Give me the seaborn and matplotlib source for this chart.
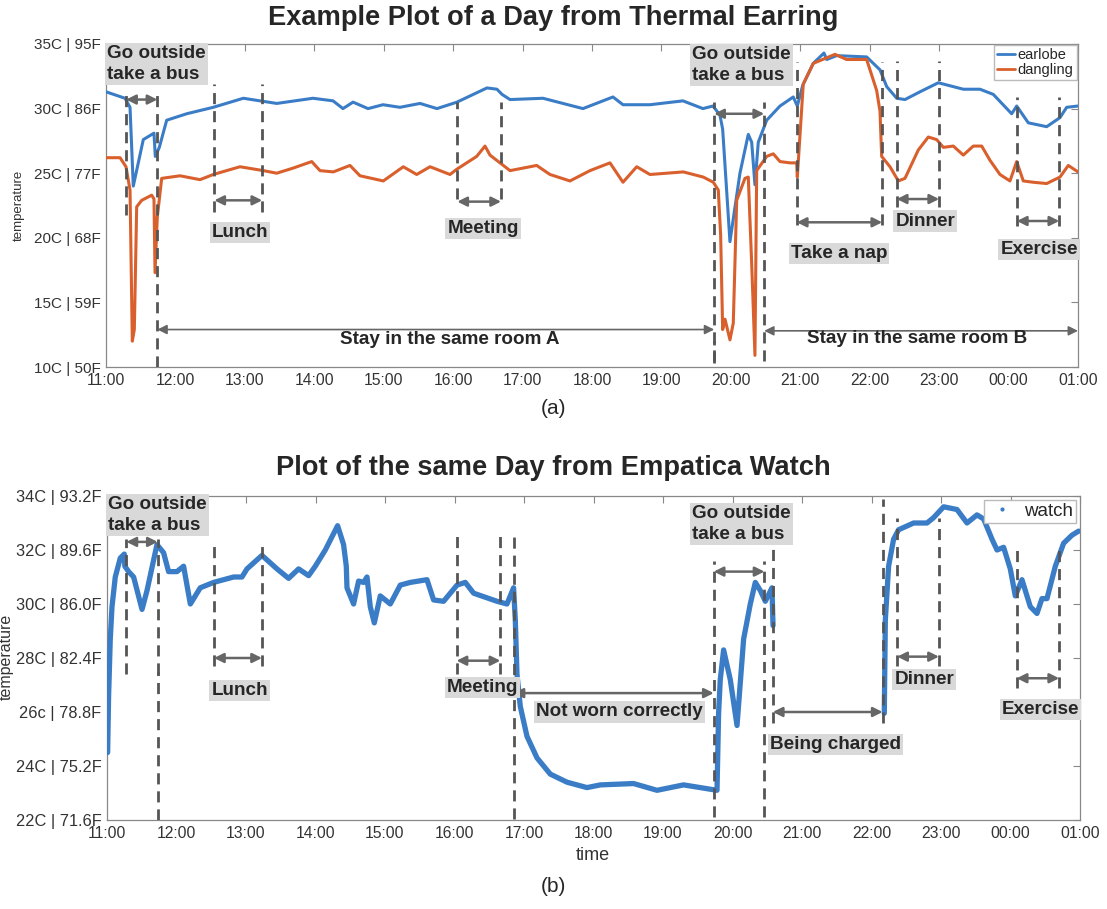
import numpy as np
import pandas as pd
import matplotlib
matplotlib.use('Agg')
import matplotlib.pyplot as plt
from matplotlib.lines import Line2D
import seaborn as sns

# DATOS (hora decimal desde 11:00; 25 = 01:00 del día siguiente)
earlobe_t = [11.0, 11.274, 11.346, 11.393, 11.537, 11.691, 11.710, 11.768, 11.874, 12.162,
             12.545, 12.978, 13.459, 13.981, 14.270, 14.413, 14.558, 14.774, 14.990, 15.234,
             15.523, 15.767, 16.055, 16.487, 16.631, 16.704, 16.819, 17.294, 17.870, 18.302,
             18.446, 18.835, 19.310, 19.598, 19.742, 19.843, 19.882, 19.987, 20.131, 20.251,
             20.300, 20.347, 20.395, 20.516, 20.708, 20.899, 20.957, 21.035, 21.187, 21.341,
             21.380, 21.524, 21.956, 22.148, 22.245, 22.389, 22.508, 22.724, 22.988, 23.348,
             23.588, 23.780, 24.045, 24.117, 24.284, 24.549, 24.740, 24.837, 25.0]
earlobe_v = [31.3, 30.8, 30.1, 24.0, 27.6, 28.1, 26.3, 27.0, 29.1, 29.6,
             30.1, 30.8, 30.4, 30.8, 30.6, 30.0, 30.5, 30.0, 30.3, 30.1,
             30.4, 30.0, 30.5, 31.6, 31.5, 31.1, 30.7, 30.8, 30.0, 30.9,
             30.3, 30.3, 30.6, 30.0, 30.2, 29.5, 28.4, 19.7, 25.0, 28.0,
             27.4, 24.1, 27.4, 29.1, 30.2, 30.9, 30.2, 31.8, 33.5, 34.3,
             33.8, 34.1, 34.0, 33.0, 31.7, 30.8, 30.7, 31.3, 32.0, 31.5,
             31.5, 31.1, 29.6, 30.2, 28.9, 28.6, 29.3, 30.1, 30.2]

dangling_t = [11.0, 11.202, 11.288, 11.346, 11.379, 11.408, 11.442, 11.514, 11.586, 11.658,
              11.691, 11.706, 11.739, 11.802, 12.066, 12.354, 12.545, 12.930, 13.266, 13.459,
              13.698, 13.963, 14.082, 14.274, 14.514, 14.658, 14.994, 15.282, 15.475, 15.667,
              15.955, 16.051, 16.339, 16.459, 16.531, 16.675, 16.819, 17.203, 17.395, 17.683,
              17.971, 18.259, 18.446, 18.644, 18.835, 19.315, 19.603, 19.747, 19.819, 19.853,
              19.882, 19.916, 19.987, 20.035, 20.084, 20.203, 20.251, 20.300, 20.347, 20.372,
              20.516, 20.611, 20.708, 20.852, 20.948, 20.957, 21.043, 21.187, 21.500, 21.668,
              21.956, 22.100, 22.148, 22.172, 22.292, 22.412, 22.508, 22.700, 22.844, 22.965,
              23.060, 23.204, 23.348, 23.492, 23.613, 23.732, 23.876, 24.020, 24.117, 24.212,
              24.356, 24.549, 24.740, 24.860, 25.0]
dangling_v = [26.2, 26.2, 25.5, 23.7, 12.0, 12.9, 22.4, 22.9, 23.1, 23.3,
              23.0, 17.3, 21.6, 24.6, 24.8, 24.5, 24.9, 25.5, 25.2, 25.0,
              25.4, 25.9, 25.2, 25.1, 25.6, 24.8, 24.4, 25.5, 24.9, 25.5,
              24.9, 25.3, 26.3, 27.1, 26.4, 25.8, 25.2, 25.6, 24.9, 24.4,
              25.2, 25.8, 24.3, 25.5, 24.9, 25.1, 24.7, 24.3, 23.7, 20.2,
              12.9, 13.7, 12.1, 13.4, 22.9, 24.6, 24.7, 18.0, 10.9, 25.2,
              26.3, 26.5, 25.9, 25.8, 25.8, 24.7, 31.9, 33.5, 34.2, 33.8,
              33.8, 31.4, 29.8, 26.3, 25.5, 24.4, 24.6, 26.8, 27.8, 27.6,
              27.0, 27.1, 26.4, 27.1, 27.1, 26.0, 24.9, 24.4, 25.9, 24.4,
              24.3, 24.2, 24.7, 25.6, 25.1]

# reloj: antes y después de la carga
watch1_t = [11.009, 11.023, 11.047, 11.072, 11.119, 11.191, 11.249, 11.256, 11.311, 11.383,
            11.504, 11.576, 11.719, 11.814, 11.886, 12.007, 12.102, 12.199, 12.342, 12.534,
            12.822, 12.942, 13.014, 13.230, 13.446, 13.613, 13.757, 13.901, 13.997, 14.141,
            14.318, 14.404, 14.443, 14.453, 14.548, 14.620, 14.692, 14.741, 14.788, 14.846,
            14.932, 15.076, 15.220, 15.364, 15.604, 15.699, 15.843, 16.036, 16.155, 16.275,
            16.612, 16.755, 16.850, 16.875, 16.899, 16.947, 17.043, 17.187, 17.378, 17.619,
            17.906, 18.098, 18.577, 18.914, 19.296, 19.777, 19.800, 19.824, 19.872, 19.968,
            20.065, 20.160, 20.256, 20.328, 20.400, 20.472, 20.568, 20.583]
watch1_v = [24.5, 26.6, 28.7, 29.9, 31.0, 31.7, 31.85, 31.4, 31.2, 31.0,
            29.8, 30.5, 32.2, 31.9, 31.2, 31.2, 31.4, 30.0, 30.6, 30.8,
            31.0, 31.0, 31.3, 31.8, 31.3, 30.95, 31.3, 31.05, 31.4, 32.0,
            32.9, 32.2, 31.4, 30.6, 30.0, 30.85, 30.8, 31.0, 29.9, 29.3,
            30.3, 30.0, 30.7, 30.8, 30.9, 30.15, 30.1, 30.7, 30.8, 30.4,
            30.1, 30.0, 30.6, 29.4, 27.4, 26.2, 25.1, 24.3, 23.7, 23.4,
            23.2, 23.3, 23.35, 23.1, 23.3, 23.1, 25.95, 27.2, 28.3, 27.2,
            25.5, 28.7, 30.0, 30.8, 30.5, 30.1, 30.6, 29.2]
watch2_t = [22.184, 22.199, 22.246, 22.318, 22.390, 22.606, 22.799, 22.894, 23.038, 23.230,
            23.374, 23.518, 23.613, 23.734, 23.806, 23.901, 23.997, 24.069, 24.165, 24.285,
            24.381, 24.453, 24.525, 24.645, 24.764, 24.885, 24.980]
watch2_v = [25.95, 29.4, 31.4, 32.4, 32.75, 33.0, 33.0, 33.2, 33.6, 33.5,
            33.0, 33.3, 33.15, 32.4, 32.0, 32.1, 31.3, 30.3, 30.9, 29.9,
            29.65, 30.2, 30.2, 31.4, 32.25, 32.55, 32.7]

hour_ticks = list(range(11, 26))
hour_labels = ['11:00', '12:00', '13:00', '14:00', '15:00', '16:00', '17:00', '18:00',
               '19:00', '20:00', '21:00', '22:00', '23:00', '00:00', '01:00']
top_yticks = [10, 15, 20, 25, 30, 35]
top_ylabels = ['10C | 50F', '15C | 59F', '20C | 68F', '25C | 77F', '30C | 86F', '35C | 95F']
bot_yticks = [22, 24, 26, 28, 30, 32, 34]
bot_ylabels = ['22C | 71.6F', '24C | 75.2F', '26c | 78.8F', '28C | 82.4F',
               '30C | 86.0F', '32C | 89.6F', '34C | 93.2F']

# eventos: (x0, x1, y0, y1 de las líneas discontinuas, altura flecha)
top_events = [(11.29, 11.74, 21.8, 31.4, 30.7), (12.56, 13.25, 22.0, 31.9, 22.9),
              (16.06, 16.69, 23.0, 30.5, 22.8), (20.95, 22.18, 21.0, 33.6, 21.2),
              (22.39, 23.00, 22.4, 33.7, 23.0), (24.12, 24.73, 20.9, 30.9, 21.3),
              (19.76, 20.48, 10.5, 30.5, 29.6)]
top_labels = [('Go outside\ntake a bus', 11.02, 34.95, 'left', 'top'),
              ('Lunch', 12.93, 20.4, 'center', 'center'),
              ('Meeting', 16.43, 20.7, 'center', 'center'),
              ('Go outside\ntake a bus', 19.44, 34.85, 'left', 'top'),
              ('Take a nap', 21.56, 18.8, 'center', 'center'),
              ('Dinner', 22.80, 21.3, 'center', 'center'),
              ('Exercise', 24.44, 19.1, 'center', 'center')]
bot_events = [(11.28, 11.73, 27.4, 32.4, 32.3), (12.54, 13.23, 27.7, 32.3, 28.0),
              (16.03, 16.66, 27.4, 32.6, 27.9), (22.37, 22.97, 27.7, 33.2, 28.05),
              (24.09, 24.70, 26.9, 32.1, 27.25), (19.73, 20.46, 22.1, 31.6, 31.2)]
bot_labels = [('Go outside\ntake a bus', 11.02, 34.0, 'left', 'top'),
              ('Lunch', 12.91, 26.8, 'center', 'center'),
              ('Meeting', 16.40, 26.9, 'center', 'center'),
              ('Not worn correctly', 18.37, 26.0, 'center', 'center'),
              ('Go outside\ntake a bus', 19.42, 33.67, 'left', 'top'),
              ('Being charged', 21.48, 24.8, 'center', 'center'),
              ('Dinner', 22.76, 27.2, 'center', 'center'),
              ('Exercise', 24.43, 26.1, 'center', 'center')]

sns.set_style('white')
plt.rcParams['font.family'] = ['Liberation Sans', 'DejaVu Sans']

blue = '#3a7dc6'
orange = '#d9602d'
dash_c = '#555555'
arrow_c = '#666666'

fig = plt.figure(figsize=(11.07, 9.09), dpi=100)
ax1 = fig.add_axes([106 / 1107, 1 - 367 / 909, 972 / 1107, 323 / 909])
ax2 = fig.add_axes([107 / 1107, 1 - 820 / 909, 973 / 1107, 324 / 909])


def vline(ax, x, y0, y1):
    ax.plot([x, x], [y0, y1], color=dash_c, lw=2, dashes=(4, 2.5), zorder=4)


def darrow(ax, x0, x1, y, lw=1.8, c=arrow_c):
    ax.annotate('', xy=(x1, y), xytext=(x0, y),
                arrowprops=dict(arrowstyle='<|-|>', color=c, lw=lw,
                                mutation_scale=14, shrinkA=0, shrinkB=0), zorder=4)


def label(ax, txt, x, y, ha, va):
    ax.text(x, y, txt, ha=ha, va=va, fontsize=13.6, fontweight='bold', linespacing=1.3,
            bbox=dict(facecolor='#d9d9d9', edgecolor='none', pad=1.5), zorder=6)


def style(ax, yt, yl, ylim, ysize):
    ax.set_xlim(11, 25)
    ax.set_ylim(*ylim)
    ax.set_xticks(hour_ticks)
    ax.set_xticklabels(hour_labels)
    ax.set_yticks(yt)
    ax.set_yticklabels(yl)
    ax.tick_params(direction='in', length=5, width=0.8, color='#888888',
                   labelcolor='#333333', labelsize=11.3, top=True, right=True, pad=4)
    ax.tick_params(axis='y', labelsize=ysize)
    for s in ax.spines.values():
        s.set_color('#888888')
        s.set_linewidth(0.9)
    ax.set_xlabel('')
    ax.set_ylabel('')


# PANEL (a): pendiente térmico
df_ear = pd.DataFrame({'t': earlobe_t, 'v': earlobe_v})
df_dan = pd.DataFrame({'t': dangling_t, 'v': dangling_v})
sns.lineplot(data=df_ear, x='t', y='v', ax=ax1, color=blue, lw=2.2, estimator=None, sort=False, zorder=3)
sns.lineplot(data=df_dan, x='t', y='v', ax=ax1, color=orange, lw=2.2, estimator=None, sort=False, zorder=3)
style(ax1, top_yticks, top_ylabels, (10, 35), 11)

for x0, x1, y0, y1, ya in top_events:
    vline(ax1, x0, y0, y1)
    vline(ax1, x1, y0, y1)
    darrow(ax1, x0, x1, ya)
vline(ax1, 11.74, 10, 21.0)
vline(ax1, 19.76, 10.3, 12)
darrow(ax1, 11.74, 19.76, 12.9, lw=1.2)
darrow(ax1, 20.48, 25.0, 12.8, lw=1.2)
for txt, x, y, ha, va in top_labels:
    label(ax1, txt, x, y, ha, va)
ax1.text(15.95, 12.1, 'Stay in the same room A', ha='center', va='center',
         fontsize=13.6, fontweight='bold', zorder=6)
ax1.text(22.68, 12.2, 'Stay in the same room B', ha='center', va='center',
         fontsize=13.6, fontweight='bold', zorder=6)

leg1 = ax1.legend(handles=[Line2D([], [], color=blue, lw=2), Line2D([], [], color=orange, lw=2)],
                  labels=['earlobe', 'dangling'], loc='upper right', fontsize=10.5,
                  handlelength=1.2, handletextpad=0.2, borderpad=0.2, labelspacing=0.05,
                  borderaxespad=0.1, fancybox=False, framealpha=1, edgecolor='#bbbbbb')
leg1.set_zorder(7)

# PANEL (b): reloj Empatica
df_w1 = pd.DataFrame({'t': watch1_t, 'v': watch1_v})
df_w2 = pd.DataFrame({'t': watch2_t, 'v': watch2_v})
sns.lineplot(data=df_w1, x='t', y='v', ax=ax2, color=blue, lw=3.8, estimator=None, sort=False, zorder=3)
sns.lineplot(data=df_w2, x='t', y='v', ax=ax2, color=blue, lw=3.8, estimator=None, sort=False, zorder=3)
style(ax2, bot_yticks, bot_ylabels, (22, 34), 11.8)

for x0, x1, y0, y1, ya in bot_events:
    vline(ax2, x0, y0, y1)
    vline(ax2, x1, y0, y1)
    darrow(ax2, x0, x1, ya)
vline(ax2, 11.73, 22, 27.5)
vline(ax2, 16.85, 22.05, 32.7)
vline(ax2, 20.58, 25.6, 32.4)
vline(ax2, 22.16, 25.6, 33.9)
darrow(ax2, 16.85, 19.73, 26.7)
darrow(ax2, 20.58, 22.16, 26.0)
for txt, x, y, ha, va in bot_labels:
    label(ax2, txt, x, y, ha, va)

leg2 = ax2.legend(handles=[Line2D([], [], color=blue, lw=0, marker='.', markersize=4)],
                  labels=['watch'], loc='upper right', fontsize=13.5,
                  handlelength=1.6, handletextpad=0.4, borderpad=0.15,
                  borderaxespad=0.2, fancybox=False, framealpha=1, edgecolor='#bbbbbb')
leg2.set_zorder(7)

# textos de la figura
fig.text(553 / 1107, 1 - 18 / 909, 'Example Plot of a Day from Thermal Earring',
         ha='center', va='center', fontsize=19.6, fontweight='bold')
fig.text(553 / 1107, 1 - 468 / 909, 'Plot of the same Day from Empatica Watch',
         ha='center', va='center', fontsize=19.6, fontweight='bold')
fig.text(553 / 1107, 1 - 408 / 909, '(a)', ha='center', va='center', fontsize=15)
fig.text(553 / 1107, 1 - 887 / 909, '(b)', ha='center', va='center', fontsize=15)
fig.text(593 / 1107, 1 - 855 / 909, 'time', ha='center', va='center', fontsize=13, color='#333333')
fig.text(19 / 1107, 1 - 205 / 909, 'temperature', ha='center', va='center', rotation=90,
         fontsize=9.5, color='#333333')
fig.text(6 / 1107, 1 - 657 / 909, 'temperature', ha='center', va='center', rotation=90,
         fontsize=11.5, color='#333333')

fig.savefig('out.png', dpi=100)
